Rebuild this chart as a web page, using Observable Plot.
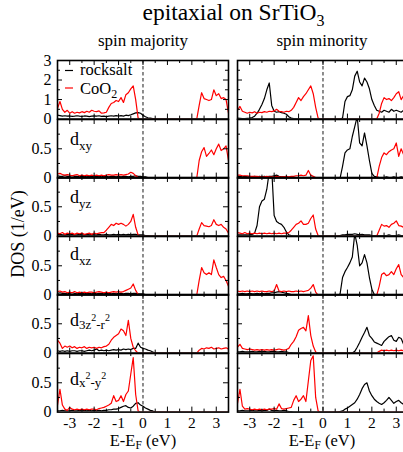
<!DOCTYPE html>
<html><head><meta charset="utf-8">
<script src="https://cdn.jsdelivr.net/npm/d3@7"></script>
<script src="https://cdn.jsdelivr.net/npm/@observablehq/plot@0.6"></script>
<style>
html,body{margin:0;padding:0;background:#fff;}
#fig{position:relative;width:403px;height:452px;overflow:hidden;background:#fff;font-family:"Liberation Serif","DejaVu Serif",serif;}
#fig svg, #fig svg text{font-family:"Liberation Serif","DejaVu Serif",serif !important;}
</style></head><body><div id="fig"></div>
<script>
// Energy grid E - E_F (eV)
const energy = [-3.5,-3.4,-3.3,-3.2,-3.1,-3,-2.9,-2.8,-2.7,-2.6,-2.5,-2.4,-2.3,-2.2,-2.1,-2,-1.9,-1.8,-1.7,-1.6,-1.5,-1.4,-1.3,-1.2,-1.1,-1,-0.9,-0.8,-0.7,-0.6,-0.5,-0.4,-0.3,-0.2,-0.1,0,0.1,0.2,0.3,0.4,0.5,0.6,0.7,0.8,0.9,1,1.1,1.2,1.3,1.4,1.5,1.6,1.7,1.8,1.9,2,2.1,2.2,2.3,2.4,2.5,2.6,2.7,2.8,2.9,3,3.1,3.2,3.3,3.4,3.5];

const columnTitles = ["spin majority", "spin minority"];
const seriesNames = ["rocksalt", "CoO2"];
const xTickLabels = [-3,-2,-1,0,1,2,3];
const xMinorTicks = [-2.5,-1.5,-0.5,0.5,1.5,2.5];
const yTickLabelsTotal = [0,1,2,3];
const yTickLabelsOrbital = [0,0.5];

// ---- spin majority ----
const rsMajTotal = [0.2,0.18,0.15,0.17,0.15,0.16,0.14,0.15,0.17,0.15, 0.14,0.16,0.15,0.13,0.15,0.16,0.15,0.17,0.14,0.15, 0.13,0.15,0.17,0.15,0.18,0.16,0.18,0.15,0.2,0.18, 0.22,0.27,0.32,0.33,0.3,0.2,0.12,0.07,0.05,0.03, 0.01,0,0,0,0,0,0,0,0,0, 0,0,0,0,0,0,0,0,0,0, 0,0,0,0,0,0,0,0,0,0, 0];
const co2MajTotal = [0.55,0.9,0.5,0.35,0.45,0.3,0.38,0.3,0.35,0.32, 0.38,0.33,0.4,0.35,0.45,0.4,0.38,0.42,0.3,0.32, 0.35,0.6,0.8,0.85,0.95,0.9,1.1,0.85,1.25,1.35, 1.55,1.7,1.0,0.05,0,0,0,0,0,0, 0,0,0,0,0,0,0,0,0,0, 0,0,0,0,0,0,0,0,0.7,1.35, 1.05,1.0,0.95,1.0,1.5,1.2,1.3,1.05,1.1,1.0, 0.3];
const rsMajXY = [0.04,0.03,0.03,0.04,0.03,0.03,0.04,0.03,0.03,0.02, 0.03,0.03,0.02,0.03,0.03,0.02,0.03,0.03,0.02,0.03, 0.03,0.02,0.03,0.03,0.02,0.03,0.02,0.03,0.03,0.02, 0.03,0.03,0.04,0.03,0.03,0.02,0.02,0.01,0.01,0, 0,0,0,0,0,0,0,0,0,0, 0,0,0,0,0,0,0,0,0,0, 0,0,0,0,0,0,0,0,0,0, 0];
const co2MajXY = [0.07,0.08,0.06,0.05,0.06,0.05,0.04,0.05,0.06,0.04, 0.05,0.04,0.05,0.04,0.05,0.04,0.05,0.04,0.05,0.04, 0.05,0.06,0.05,0.05,0.06,0.05,0.06,0.05,0.06,0.07, 0.1,0.08,0.04,0.01,0,0,0,0,0,0, 0,0,0,0,0,0,0,0,0,0, 0,0,0,0,0,0,0,0,0.3,0.45, 0.52,0.37,0.42,0.48,0.4,0.5,0.58,0.47,0.5,0.55, 0.3];
const rsMajYZ = [0.02,0.03,0.02,0.02,0.03,0.02,0.03,0.02,0.02,0.03, 0.02,0.02,0.03,0.02,0.03,0.02,0.02,0.03,0.02,0.02, 0.03,0.02,0.02,0.03,0.02,0.03,0.02,0.03,0.02,0.03, 0.02,0.03,0.03,0.02,0.02,0.02,0.01,0.01,0,0, 0,0,0,0,0,0,0,0,0,0, 0,0,0,0,0,0,0,0,0,0, 0,0,0,0,0,0,0,0,0,0, 0];
const co2MajYZ = [0.05,0.04,0.06,0.03,0.05,0.04,0.05,0.03,0.05,0.04, 0.05,0.03,0.04,0.05,0.03,0.05,0.04,0.05,0.06,0.06, 0.1,0.15,0.2,0.18,0.22,0.2,0.22,0.2,0.17,0.2, 0.25,0.37,0.15,0.02,0,0,0,0,0,0, 0,0,0,0,0,0,0,0,0,0, 0,0,0,0,0,0,0,0,0.12,0.23, 0.18,0.17,0.16,0.18,0.28,0.2,0.18,0.2,0.15,0.12, 0.05];
const rsMajXZ = [0.03,0.04,0.03,0.03,0.02,0.03,0.04,0.03,0.02,0.03, 0.03,0.02,0.03,0.03,0.02,0.03,0.02,0.03,0.03,0.02, 0.03,0.03,0.02,0.03,0.02,0.03,0.03,0.02,0.03,0.03, 0.02,0.03,0.03,0.02,0.02,0.02,0.01,0.01,0,0, 0,0,0,0,0,0,0,0,0,0, 0,0,0,0,0,0,0,0,0,0, 0,0,0,0,0,0,0,0,0,0, 0];
const co2MajXZ = [0.06,0.07,0.05,0.06,0.04,0.05,0.04,0.06,0.04,0.05, 0.04,0.05,0.04,0.05,0.05,0.04,0.05,0.06,0.05,0.04, 0.05,0.04,0.05,0.06,0.05,0.06,0.05,0.06,0.08,0.1, 0.12,0.19,0.08,0.01,0,0,0,0,0,0, 0,0,0,0,0,0,0,0,0,0, 0,0,0,0,0,0,0,0,0.25,0.47, 0.38,0.35,0.38,0.35,0.6,0.47,0.35,0.3,0.32,0.25, 0.15];
const rsMaj3z2 = [0.04,0.03,0.04,0.03,0.04,0.03,0.04,0.04,0.03,0.04, 0.04,0.03,0.04,0.05,0.04,0.05,0.07,0.04,0.05,0.04, 0.05,0.04,0.05,0.06,0.05,0.06,0.05,0.07,0.06,0.07, 0.06,0.08,0.08,0.17,0.1,0.08,0.07,0.05,0.04,0.02, 0,0,0,0,0,0,0,0,0,0, 0,0,0,0,0,0,0,0,0,0, 0,0,0,0,0,0,0,0,0,0, 0];
const co2Maj3z2 = [0.22,0.17,0.08,0.12,0.1,0.12,0.09,0.11,0.08,0.1, 0.09,0.11,0.08,0.1,0.09,0.1,0.08,0.1,0.09,0.11, 0.12,0.15,0.22,0.27,0.3,0.33,0.41,0.38,0.3,0.56, 0.25,0.1,0.04,0,0,0,0,0,0,0, 0,0,0,0,0,0,0,0,0,0, 0,0,0,0,0,0,0,0,0.05,0.08, 0.07,0.09,0.08,0.1,0.07,0.08,0.09,0.07,0.08,0.09, 0.07];
const rsMajX2y2 = [0.02,0.02,0.03,0.02,0.02,0.02,0.03,0.02,0.02,0.03, 0.02,0.03,0.02,0.03,0.02,0.03,0.02,0.03,0.02,0.03, 0.03,0.04,0.04,0.05,0.05,0.06,0.08,0.1,0.11,0.08, 0.07,0.1,0.15,0.16,0.12,0.1,0.07,0.05,0.03,0.02, 0,0,0,0,0,0,0,0,0,0, 0,0,0,0,0,0,0,0,0,0, 0,0,0,0,0,0,0,0,0,0, 0];
const co2MajX2y2 = [0.12,0.39,0.12,0.05,0.03,0.08,0.05,0.04,0.05,0.04, 0.05,0.04,0.05,0.04,0.05,0.05,0.04,0.06,0.07,0.08, 0.1,0.12,0.15,0.28,0.18,0.2,0.28,0.18,0.3,0.36, 0.65,0.93,0.3,0.02,0,0,0,0,0,0, 0,0,0,0,0,0,0,0,0,0, 0,0,0,0,0,0,0,0,0,0, 0,0,0,0,0,0,0,0,0,0, 0];

// ---- spin minority ----
const rsMinTotal = [0.05,0.04,0.03,0.03,0.04,0.05,0.08,0.15,0.3,0.5, 0.75,1.05,1.5,1.85,0.7,0.4,0.35,0.38,0.33,0.3, 0.25,0.12,0.05,0.02,0.01,0,0,0,0,0, 0,0,0,0,0,0,0,0,0,0, 0,0,0,0.05,0.9,1.15,1.2,1.5,2.2,2.45, 1.9,1.7,2.1,1.9,1.55,1.0,0.7,0.45,0.4,0.35, 0.45,0.4,0.35,0.5,0.4,0.45,0.4,0.35,0.45,0.38, 0.4];
const co2MinTotal = [0.45,0.65,0.4,0.35,0.3,0.35,0.32,0.38,0.3,0.35, 0.33,0.38,0.35,0.4,0.38,0.42,0.5,0.4,0.38,0.35, 0.4,0.38,0.45,0.6,0.85,1.1,0.95,1.15,1.3,1.5, 1.7,1.3,0.6,0.05,0,0,0,0,0,0, 0,0,0,0,0,0,0,0,0,0, 0,0,0,0,0,0,0,0,0.3,0.8, 1.1,1.0,1.05,0.95,1.1,1.3,1.4,1.0,1.2,1.0, 1.1];
const rsMinXY = [0.03,0.03,0.02,0.03,0.02,0.03,0.02,0.03,0.02,0.03, 0.02,0.03,0.02,0.03,0.03,0.04,0.05,0.03,0.02,0.02, 0.02,0.01,0.01,0,0,0,0,0,0,0, 0,0,0,0,0,0,0,0,0,0, 0,0,0,0.2,0.43,0.48,0.5,0.71,0.88,1.05, 0.6,0.55,0.77,0.55,0.3,0.08,0.03,0.02,0.01,0.01, 0.01,0.02,0.01,0.01,0.02,0.01,0.01,0.02,0.01,0.01, 0.01];
const co2MinXY = [0.05,0.05,0.04,0.04,0.04,0.03,0.03,0.03,0.03,0.02, 0.02,0.02,0.03,0.02,0.02,0.02,0.03,0.02,0.02,0.02, 0.03,0.02,0.03,0.03,0.04,0.04,0.05,0.04,0.05,0.13, 0.05,0.03,0.01,0,0,0,0,0,0,0, 0,0,0,0,0,0,0,0,0,0, 0,0,0,0,0,0,0,0,0.2,0.35, 0.43,0.4,0.45,0.48,0.5,0.6,0.37,0.5,0.4,0.33, 0.35];
const rsMinYZ = [0.02,0.02,0.02,0.02,0.02,0.02,0.03,0.05,0.18,0.5, 0.6,0.63,0.8,1.1,1.15,0.35,0.25,0.22,0.2,0.15, 0.07,0.02,0.01,0,0,0,0,0,0,0, 0,0,0,0,0,0,0,0,0,0, 0,0,0.01,0.02,0.02,0.03,0.03,0.03,0.04,0.03, 0.02,0.03,0.02,0.02,0.02,0.01,0.01,0.01,0.01,0.01, 0.01,0.01,0.02,0.01,0.01,0.01,0.02,0.01,0.01,0.01, 0.01];
const co2MinYZ = [0.06,0.05,0.04,0.06,0.04,0.05,0.04,0.05,0.04,0.05, 0.04,0.05,0.04,0.05,0.04,0.05,0.04,0.05,0.04,0.05, 0.05,0.06,0.1,0.15,0.2,0.22,0.26,0.2,0.2,0.22, 0.3,0.36,0.12,0.01,0,0,0,0,0,0, 0,0,0,0,0,0,0,0,0,0, 0,0,0,0,0,0,0,0,0.1,0.2, 0.17,0.18,0.15,0.2,0.22,0.26,0.18,0.17,0.15,0.12, 0.1];
const rsMinXZ = [0.02,0.02,0.03,0.02,0.02,0.03,0.02,0.02,0.03,0.02, 0.03,0.02,0.03,0.03,0.04,0.04,0.05,0.06,0.05,0.04, 0.03,0.02,0.01,0.01,0,0,0,0,0,0, 0,0,0,0,0,0,0,0,0,0, 0,0,0.02,0.3,0.4,0.47,0.55,0.65,1.05,0.85, 0.5,0.55,0.69,0.55,0.3,0.1,0.01,0,0,0, 0,0,0,0,0,0,0,0,0,0, 0];
const co2MinXZ = [0.07,0.06,0.07,0.06,0.07,0.06,0.07,0.06,0.07,0.06, 0.07,0.06,0.06,0.07,0.06,0.07,0.18,0.07,0.06,0.07, 0.06,0.07,0.06,0.06,0.07,0.06,0.07,0.06,0.07,0.08, 0.12,0.18,0.05,0,0,0,0,0,0,0, 0,0,0,0,0,0,0,0,0,0, 0,0,0,0,0,0,0,0,0.15,0.35, 0.38,0.33,0.35,0.4,0.35,0.45,0.52,0.35,0.3,0.25, 0.28];
const rsMin3z2 = [0.02,0.02,0.03,0.02,0.02,0.02,0.03,0.02,0.02,0.03, 0.02,0.03,0.02,0.02,0.03,0.03,0.02,0.02,0.03,0.02, 0.02,0.01,0.01,0,0,0,0,0,0,0, 0,0,0,0,0,0,0,0,0,0, 0,0,0,0,0,0,0,0,0.03,0.1, 0.18,0.27,0.35,0.44,0.3,0.25,0.19,0.17,0.15,0.13, 0.2,0.24,0.28,0.3,0.22,0.2,0.27,0.25,0.15,0.18, 0.15];
const co2Min3z2 = [0.1,0.15,0.08,0.07,0.06,0.07,0.06,0.05,0.06,0.05, 0.06,0.05,0.06,0.05,0.06,0.05,0.06,0.07,0.06,0.05, 0.06,0.08,0.15,0.2,0.28,0.39,0.42,0.44,0.38,0.64, 0.3,0.12,0.02,0,0,0,0,0,0,0, 0,0,0,0,0,0,0,0,0,0, 0,0,0,0,0,0,0,0,0.03,0.05, 0.04,0.05,0.04,0.05,0.04,0.05,0.04,0.05,0.04,0.05, 0.04];
const rsMinX2y2 = [0.02,0.02,0.03,0.02,0.02,0.02,0.03,0.02,0.02,0.03, 0.02,0.03,0.03,0.05,0.03,0.02,0.03,0.02,0.02,0.03, 0.02,0.01,0.01,0,0,0,0,0,0,0, 0,0,0,0,0,0,0,0,0,0, 0,0,0.01,0.02,0.05,0.07,0.1,0.13,0.16,0.22, 0.3,0.4,0.47,0.5,0.36,0.28,0.22,0.18,0.15,0.13, 0.16,0.2,0.25,0.2,0.15,0.18,0.2,0.16,0.13,0.15, 0.12];
const co2MinX2y2 = [0.15,0.39,0.1,0.05,0.06,0.05,0.04,0.05,0.04,0.05, 0.04,0.05,0.04,0.05,0.05,0.06,0.05,0.14,0.06,0.05, 0.06,0.07,0.08,0.2,0.28,0.18,0.22,0.28,0.18,0.53, 0.88,0.96,0.25,0.02,0,0,0,0,0,0, 0,0,0,0,0,0,0,0,0,0, 0,0,0,0,0,0,0,0,0,0, 0,0,0,0,0,0,0,0,0,0, 0];

const rocksalt = [
  [rsMajTotal, rsMajXY, rsMajYZ, rsMajXZ, rsMaj3z2, rsMajX2y2],
  [rsMinTotal, rsMinXY, rsMinYZ, rsMinXZ, rsMin3z2, rsMinX2y2]
];
const coo2 = [
  [co2MajTotal, co2MajXY, co2MajYZ, co2MajXZ, co2Maj3z2, co2MajX2y2],
  [co2MinTotal, co2MinXY, co2MinYZ, co2MinXZ, co2Min3z2, co2MinX2y2]
];

// ---- layout ----
const FONT = "Liberation Serif, DejaVu Serif, serif";
const fig = document.getElementById("fig");
const colX = [57.3, 236.7];
const W = 171, H = 58.6, TOP0 = 60;

function drawPanel(c, r) {
  const rs = rocksalt[c][r], co = coo2[c][r];
  if (rs.length !== energy.length || co.length !== energy.length) console.warn("length", c, r, rs.length, co.length);
  const rows = energy.map((e, i) => ({e, rs: rs[i], co: co[i]}));
  const yMax = r === 0 ? 3 : 1;
  const yMaj = r === 0 ? [1, 2] : [0.5];
  const yMin = r === 0 ? [0.5, 1.5, 2.5] : [0.25, 0.75];
  const tk = {stroke: "#000", strokeWidth: 1};
  const marks = [
    Plot.ruleX([0], {x: d => d, stroke: "#000", strokeWidth: 0.9, strokeDasharray: "3.5,2.5"}),
    Plot.line(rows, {x: "e", y: "rs", stroke: "#000", strokeWidth: 1.2, clip: true}),
    Plot.line(rows, {x: "e", y: "co", stroke: "#ff0000", strokeWidth: 1.2, clip: true}),
    Plot.tickX(xTickLabels, {x: d => d, insetTop: H - 5, ...tk}),
    Plot.tickX(xTickLabels, {x: d => d, insetBottom: H - 5, ...tk}),
    Plot.tickX(xMinorTicks, {x: d => d, insetTop: H - 3, ...tk}),
    Plot.tickX(xMinorTicks, {x: d => d, insetBottom: H - 3, ...tk}),
    Plot.tickY(yMaj, {y: d => d, insetRight: W - 5, ...tk}),
    Plot.tickY(yMaj, {y: d => d, insetLeft: W - 5, ...tk}),
    Plot.tickY(yMin, {y: d => d, insetRight: W - 3, ...tk}),
    Plot.tickY(yMin, {y: d => d, insetLeft: W - 3, ...tk}),
    Plot.frame({stroke: "#000", strokeWidth: 1.6})
  ];
  const hasY = c === 0, hasX = r === 5;
  if (hasY) marks.push(Plot.axisY({ticks: r === 0 ? yTickLabelsTotal : yTickLabelsOrbital, anchor: "left", tickSize: 0, tickPadding: 6, tickFormat: d => String(d), fontSize: 16, label: null}));
  if (hasX) marks.push(Plot.axisX({ticks: xTickLabels, anchor: "bottom", tickSize: 0, tickPadding: 5, tickFormat: d => String(d), fontSize: 15.5, label: null}));
  const svg = Plot.plot({
    width: W, height: H, margin: 0,
    x: {domain: [-3.5, 3.5], axis: hasX ? undefined : null, label: null},
    y: {domain: [0, yMax], axis: hasY ? undefined : null, label: null},
    style: {background: "transparent", overflow: "visible", fontFamily: FONT, fontSize: "16px", color: "#000"},
    marks
  });
  svg.style.position = "absolute";
  svg.style.left = colX[c] + "px";
  svg.style.top = (TOP0 + r * H) + "px";
  svg.style.maxWidth = "none";
  fig.appendChild(svg);
}
for (let c = 0; c < 2; c++) for (let r = 0; r < 6; r++) drawPanel(c, r);

// ---- text overlay ----
const ov = d3.select(fig).append("svg")
  .attr("width", 403).attr("height", 452)
  .style("position", "absolute").style("left", "0px").style("top", "0px")
  .style("overflow", "visible").style("font-family", FONT);

function rich(x, y, segs, anchor = "start", transform = null) {
  const t = ov.append("text").attr("x", x).attr("y", y)
    .attr("text-anchor", anchor).style("font-family", FONT).attr("fill", "#000");
  if (transform) t.attr("transform", transform);
  let prev = 0;
  for (const s of segs) {
    t.append("tspan").attr("font-size", s.s).attr("dy", s.b - prev).text(s.t);
    prev = s.b;
  }
  return t;
}

rich(233.5, 19.5, [{t: "epitaxial on SrTiO", s: 23.5, b: 0}, {t: "3", s: 16, b: 6}], "middle");
rich(143, 46, [{t: columnTitles[0], s: 17, b: 0}], "middle");
rich(322, 45.5, [{t: columnTitles[1], s: 17, b: 0}], "middle");
rich(0, 0, [{t: "DOS (1/eV)", s: 18, b: 0}], "middle", "translate(24,234) rotate(-90)");
for (const cx of [143, 322]) {
  rich(cx, 445.5, [{t: "E-E", s: 16.5, b: 0}, {t: "F", s: 11.5, b: 3}, {t: " (eV)", s: 16.5, b: 0}], "middle");
}

// legend
ov.append("line").attr("x1", 65).attr("x2", 73).attr("y1", 70.5).attr("y2", 70.5).attr("stroke", "#000").attr("stroke-width", 1.2);
ov.append("line").attr("x1", 65).attr("x2", 73).attr("y1", 88).attr("y2", 88).attr("stroke", "#ff0000").attr("stroke-width", 1.2);
rich(80, 75.3, [{t: seriesNames[0], s: 16.5, b: 0}]);
rich(80, 93.6, [{t: "CoO", s: 16.5, b: 0}, {t: "2", s: 12, b: 4.5}]);

// orbital labels
rich(70, 145, [{t: "d", s: 18, b: 0}, {t: "xy", s: 13, b: 5}]);
rich(70, 202.5, [{t: "d", s: 18, b: 0}, {t: "yz", s: 13, b: 5}]);
rich(70, 260, [{t: "d", s: 18, b: 0}, {t: "xz", s: 13, b: 5}]);
rich(70, 325.5, [{t: "d", s: 18, b: 0}, {t: "3z", s: 13, b: 3}, {t: "2", s: 10, b: -5}, {t: "-r", s: 13, b: 3}, {t: "2", s: 10, b: -5}]);
rich(70, 385, [{t: "d", s: 18, b: 0}, {t: "x", s: 13, b: 2}, {t: "2", s: 10, b: -6}, {t: "-y", s: 13, b: 2}, {t: "2", s: 10, b: -6}]);
</script></body></html>
